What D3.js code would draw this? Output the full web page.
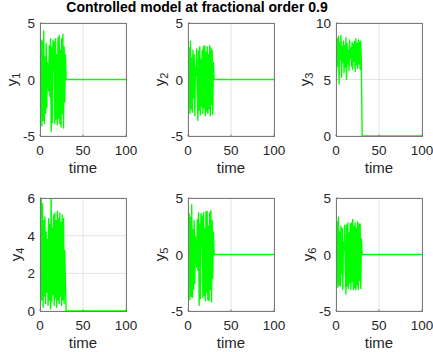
<!doctype html>
<meta charset=utf8>
<title>Controlled model at fractional order 0.9</title>
<style>
  body { margin: 0; background: #fff; }
  svg { display: block; font-family: "Liberation Sans", Arial, Helvetica, sans-serif; }
  .tick-label { font-size: 13.5px; fill: #262626; }
  .axis-label { font-size: 15px; fill: #262626; }
  .title { font-size: 14px; font-weight: bold; fill: #000; }
  .grid line { stroke: #e3e3e3; stroke-width: 1; }
  .box { fill: none; stroke: #7a7a7a; stroke-width: 1; }
  .trace { fill: none; stroke: #00ff00; stroke-width: 1.4; stroke-linejoin: round; }
</style>
<svg width=433 height=352></svg>
<script src=https://d3js.org/d3.v7.min.js></script>
<script>
  // sampled every dt time units from t = 0, then the controller kicks in
  var dt = 0.72;
  var settleT = [30.4, 100];

  var y1 = [5.0, -3.2, 3.5, -4.1, 3.4, -3.6, 4.3, -3.9, 2.0, -3.0, 3.2, -2.5, 1.5, 0.5, -1.0, 3.0, -1.5, 3.6, -4.6, 2.8, -3.8,
    3.5, 0.8, 3.3, -3.9, 3.6, -3.5, 2.2, -4.0, 3.7, -3.4, 3.9, -3.9, 2.6, -4.2, 3.6, -3.0, 4.0, -4.3, 2.9, -2.0, 2.2];
  var y2 = [3.6, -2.2, 2.8, -3.0, 3.4, -2.6, 1.9, -2.9, 2.6, -1.6, 2.2, -3.2, 1.0, 0.4, 2.7, -1.2, -3.6, 2.5, -2.7, 2.9, -3.1,
    1.8, -2.4, 2.6, -3.0, 2.9, -2.5, 3.0, -3.2, 2.4, -2.8, 2.9, -3.0, 2.2, -2.6, 3.0, -3.2, 2.8, -2.2, 2.6, -3.1, 1.5];
  var y3 = [9.0, 5.5, 8.6, 6.2, 8.8, 4.6, 8.3, 6.8, 8.9, 5.2, 7.9, 6.5, 8.4, 5.6, 8.0, 6.1, 8.7, 5.0, 8.2, 6.4, 7.6,
    5.8, 8.5, 6.9, 7.8, 6.2, 8.3, 5.9, 8.1, 6.6, 8.4, 5.7, 8.6, 6.3, 8.2, 6.0, 8.5, 6.4, 8.3, 5.9, 8.4, 6.2];
  var y4 = [4.5, 0.3, 6.0, 0.6, 5.7, 0.2, 4.8, 0.8, 5.0, 0.4, 4.2, 1.0, 3.8, 0.3, 4.9, 0.6, 4.6, 0.1, 6.5, 0.5, 4.4,
    0.9, 5.1, 0.3, 5.2, 0.7, 4.8, 0.2, 5.3, 0.6, 4.9, 0.4, 5.2, 0.8, 4.7, 0.3, 5.1, 0.6, 4.9, 0.4, 3.2, 1.5];
  var y5 = [4.9, -3.0, 3.6, -4.0, 3.3, -3.7, 4.4, -3.8, 2.2, -3.1, 3.0, -2.6, 1.6, 0.4, -1.1, 3.1, -1.4, 3.7, -4.5, 2.7, -3.9,
    3.6, 0.7, 3.4, -3.8, 3.7, -3.6, 2.3, -4.1, 3.8, -3.3, 3.8, -4.0, 2.5, -4.1, 3.7, -3.1, 3.9, -4.2, 3.0, -2.1, 2.0];
  var y6 = [3.7, -2.3, 2.9, -2.9, 3.3, -2.7, 2.0, -2.8, 2.5, -1.7, 2.3, -3.1, 1.1, 0.3, 2.6, -1.3, -3.5, 2.6, -2.8, 2.8, -3.0,
    1.9, -2.5, 2.7, -3.1, 2.8, -2.4, 3.1, -3.1, 2.5, -2.9, 2.8, -3.1, 2.3, -2.7, 2.9, -3.1, 2.7, -2.3, 2.7, -3.0, 1.4];
  var settled = [0, 0, 0, 0, 0, 0];

  var xTicks = [0, 50, 100];
  var yTicks = [[-5, 0, 5], [-5, 0, 5], [0, 5, 10], [0, 2, 4, 6], [-5, 0, 5], [-5, 0, 5]];
  var yDomains = [[-5, 5], [-5, 5], [0, 10], [0, 6], [-5, 5], [-5, 5]];
  var series = [y1, y2, y3, y4, y5, y6];

  var colsX = [40, 188, 336];
  var rowsY = [23, 198];
  var pw = 86, ph = 113;

  var svg = d3.select('svg');

  svg.append('text')
    .attr('class', 'title')
    .attr('x', 197)
    .attr('y', 12)
    .attr('text-anchor', 'middle')
    .text('Controlled model at fractional order 0.9');

  series.forEach(function (vals, k) {
    var left = colsX[k % 3], top = rowsY[Math.floor(k / 3)];
    var g = svg.append('g').attr('transform', 'translate(' + left + ',' + top + ')');

    var x = d3.scaleLinear().domain([0, 100]).range([0, pw]);
    var y = d3.scaleLinear().domain(yDomains[k]).range([ph, 0]);

    var pts = vals.map(function (v, i) { return [i * dt, v]; });
    settleT.forEach(function (t) { pts.push([t, settled[k]]); });

    var grid = g.append('g').attr('class', 'grid');
    grid.selectAll('.gx').data(xTicks).join('line')
      .attr('x1', x).attr('x2', x).attr('y1', 0).attr('y2', ph);
    grid.selectAll('.gy').data(yTicks[k]).join('line')
      .attr('class', 'gy')
      .attr('y1', y).attr('y2', y).attr('x1', 0).attr('x2', pw);

    var clipId = 'clip' + k;
    g.append('clipPath').attr('id', clipId)
      .append('rect').attr('width', pw).attr('height', ph);

    g.append('path')
      .datum(pts)
      .attr('class', 'trace')
      .attr('clip-path', 'url(#' + clipId + ')')
      .attr('d', d3.line().x(function (d) { return x(d[0]); }).y(function (d) { return y(d[1]); }));

    g.append('rect').attr('class', 'box').attr('x', 0.5).attr('y', 0.5).attr('width', pw).attr('height', ph);

    // small inward ticks like matlab
    g.selectAll('.tx').data(xTicks).join('line')
      .attr('x1', x).attr('x2', x).attr('y1', ph).attr('y2', ph - 1.5)
      .attr('stroke', '#7a7a7a');
    g.selectAll('.ty').data(yTicks[k]).join('line')
      .attr('class', 'ty')
      .attr('y1', y).attr('y2', y).attr('x1', 0).attr('x2', 1.5)
      .attr('stroke', '#7a7a7a');

    g.selectAll('.xl').data(xTicks).join('text')
      .attr('class', 'tick-label')
      .attr('x', x)
      .attr('y', ph + 19)
      .attr('text-anchor', 'middle')
      .text(function (d) { return d; });

    var yl = g.selectAll('.yl').data(yTicks[k]).join('text')
      .attr('class', 'tick-label')
      .attr('x', -5)
      .attr('y', function (d) { return y(d) + 5; })
      .attr('text-anchor', 'end')
      .text(function (d) { return d; });

    var maxW = d3.max(yl.nodes(), function (n) { return n.getComputedTextLength(); });

    g.append('text')
      .attr('class', 'axis-label')
      .attr('x', pw / 2)
      .attr('y', ph + 37)
      .attr('text-anchor', 'middle')
      .text('time');

    var lab = g.append('text')
      .attr('class', 'axis-label')
      .attr('transform', 'translate(' + (-maxW - 11) + ',' + (ph / 2) + ') rotate(-90)')
      .attr('text-anchor', 'middle');
    lab.append('tspan').text('y');
    lab.append('tspan').attr('dy', 3).attr('font-size', '11px').text(k + 1);
  });
</script>
